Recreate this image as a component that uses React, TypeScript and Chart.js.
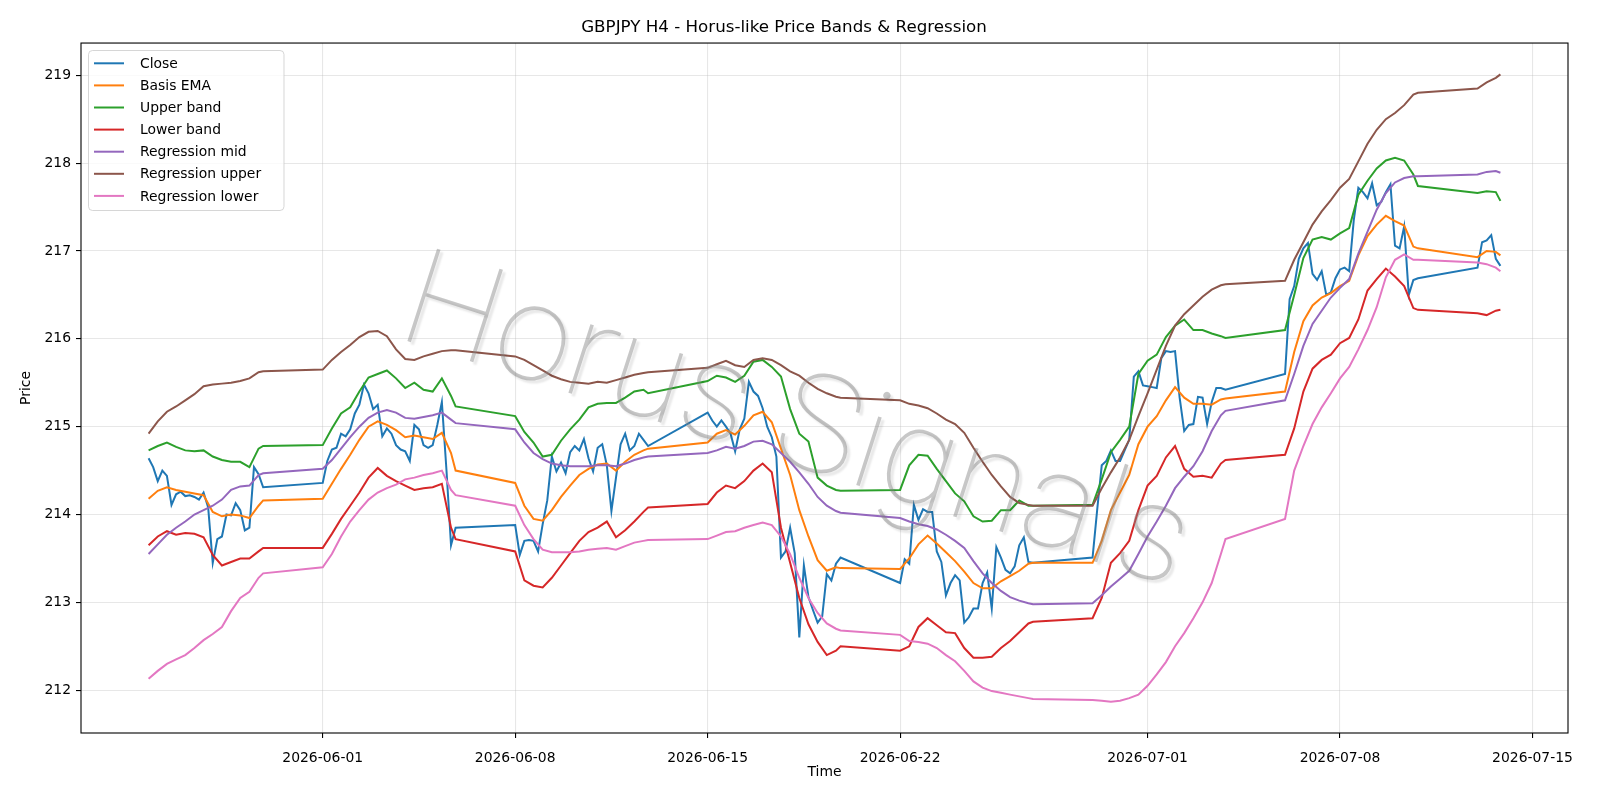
import { useEffect, useRef } from "react";
import { Chart, registerables } from "chart.js";

Chart.register(...registerables);

const TITLE = "GBPJPY H4 - Horus-like Price Bands & Regression";
const X_LABEL = "Time";
const Y_LABEL = "Price";
const WATERMARK = "Horus Signals";

// Trading sessions of H4 bars: [first day (UTC), first hour, bar count]
const SESSIONS: [string, number, number][] = [
  ["2026-05-25", 16, 26],
  ["2026-06-01", 0, 30],
  ["2026-06-08", 0, 30],
  ["2026-06-15", 0, 30],
  ["2026-06-22", 0, 30],
  ["2026-06-29", 0, 30],
  ["2026-07-06", 0, 30],
  ["2026-07-13", 0, 6],
];

const X_TICKS = ["2026-06-01", "2026-06-08", "2026-06-15", "2026-06-22", "2026-07-01", "2026-07-08", "2026-07-15"];
const Y_TICKS = [212, 213, 214, 215, 216, 217, 218, 219];

// Close, one value per H4 bar
const CLOSE = [
  214.64, 214.54, 214.38, 214.5, 214.44, 214.11, 214.23, 214.26, 214.21, 214.22, 214.2, 214.17, 214.25, 214.08, 213.45, 213.72, 213.75, 214.0, 213.99, 214.13, 214.05, 213.82, 213.85, 214.54, 214.46, 214.31,
  214.36, 214.61, 214.74, 214.76, 214.92, 214.89, 214.97, 215.15, 215.25, 215.48, 215.38, 215.2, 215.25, 214.89, 214.98, 214.92, 214.79, 214.74, 214.72, 214.61, 215.02, 214.97, 214.79, 214.76, 214.79, 215.02, 215.28, 214.51, 213.65, 213.85,
  213.88, 213.54, 213.7, 213.71, 213.7, 213.58, 213.89, 214.16, 214.66, 214.49, 214.59, 214.47, 214.71, 214.78, 214.73, 214.86, 214.64, 214.49, 214.76, 214.8, 214.56, 214.04, 214.42, 214.8, 214.92, 214.73, 214.78, 214.92, 214.85, 214.78,
  215.16, 215.07, 215.0, 215.07, 215.0, 214.92, 214.72, 214.97, 215.09, 215.51, 215.4, 215.35, 215.21, 215.0, 214.88, 214.66, 213.51, 213.58, 213.85, 213.56, 212.6, 213.42, 213.06, 212.91, 212.77, 212.84, 213.32, 213.25, 213.44, 213.51,
  213.22, 213.49, 213.44, 214.11, 213.94, 214.06, 214.03, 214.03, 213.58, 213.46, 213.08, 213.22, 213.31, 213.25, 212.77, 212.83, 212.93, 212.93, 213.22, 213.34, 212.93, 213.63, 213.51, 213.37, 213.33, 213.41, 213.65, 213.74, 213.46, 213.45,
  213.51, 214.05, 214.56, 214.61, 214.73, 214.61, 214.61, 214.73, 214.85, 215.57, 215.63, 215.47, 215.46, 215.45, 215.44, 215.78, 215.86, 215.85, 215.86, 215.33, 214.95, 215.02, 215.03, 215.34, 215.33, 215.03, 215.28, 215.44, 215.44, 215.42,
  215.6, 216.45, 216.6, 216.91, 217.03, 217.09, 216.74, 216.67, 216.77, 216.5, 216.53, 216.69, 216.79, 216.81, 216.77, 217.35, 217.72, 217.67, 217.6, 217.77, 217.52, 217.56, 217.67, 217.76, 217.06, 217.03, 217.28, 216.5, 216.67, 216.69,
  216.81, 217.1, 217.12, 217.18, 216.91, 216.83,
];

// Smoother series, one value per 8 hours (plus each session's last bar)
const BASIS_EMA = [
  214.18, 214.27, 214.31, 214.28, 214.26, 214.24, 214.22, 214.03, 213.98, 214.0, 213.99, 213.96, 214.1, 214.16,
  214.18, 214.35, 214.52, 214.68, 214.85, 215.0, 215.06, 215.02, 214.96, 214.88, 214.9, 214.88, 214.86, 214.93, 214.7, 214.5,
  214.36, 214.1, 213.95, 213.93, 214.05, 214.2, 214.33, 214.45, 214.52, 214.57, 214.58, 214.5, 214.6, 214.68, 214.73, 214.75,
  214.82, 214.92, 214.96, 214.91, 215.01, 215.13, 215.17, 215.05, 214.75, 214.45, 214.05, 213.75, 213.48, 213.36, 213.4, 213.39,
  213.38, 213.5, 213.66, 213.76, 213.67, 213.57, 213.47, 213.35, 213.22, 213.16, 213.16, 213.24, 213.3, 213.36, 213.44, 213.45,
  213.45, 213.7, 214.05, 214.25, 214.45, 214.8, 215.0, 215.12, 215.3, 215.45, 215.33, 215.26, 215.26, 215.25, 215.31, 215.32,
  215.4, 215.85, 216.2, 216.38, 216.47, 216.52, 216.6, 216.66, 216.95, 217.17, 217.3, 217.4, 217.34, 217.29, 217.05, 217.03,
  216.93, 217.0, 216.99, 216.95,
];

const UPPER_BAND = [
  214.73, 214.78, 214.82, 214.77, 214.73, 214.72, 214.73, 214.66, 214.62, 214.6, 214.6, 214.54, 214.75, 214.78,
  214.79, 214.98, 215.15, 215.22, 215.4, 215.56, 215.6, 215.64, 215.55, 215.44, 215.5, 215.42, 215.4, 215.55, 215.35, 215.23,
  215.12, 214.94, 214.82, 214.66, 214.68, 214.84, 214.97, 215.08, 215.22, 215.26, 215.27, 215.27, 215.33, 215.4, 215.42, 215.38,
  215.52, 215.58, 215.56, 215.51, 215.58, 215.74, 215.76, 215.68, 215.57, 215.2, 214.92, 214.83, 214.42, 214.33, 214.28, 214.27,
  214.28, 214.56, 214.68, 214.67, 214.52, 214.38, 214.24, 214.15, 213.98, 213.92, 213.93, 214.05, 214.05, 214.16, 214.1, 214.1,
  214.11, 214.4, 214.71, 214.85, 215.0, 215.6, 215.75, 215.82, 216.02, 216.15, 216.22, 216.1, 216.1, 216.06, 216.03, 216.01,
  216.1, 216.5, 216.92, 217.13, 217.16, 217.13, 217.2, 217.26, 217.64, 217.8, 217.94, 218.03, 218.06, 218.03, 217.87, 217.74,
  217.66, 217.68, 217.67, 217.57,
];

const LOWER_BAND = [
  213.65, 213.75, 213.81, 213.77, 213.79, 213.78, 213.74, 213.54, 213.42, 213.46, 213.5, 213.5, 213.58, 213.62,
  213.62, 213.78, 213.95, 214.1, 214.25, 214.42, 214.53, 214.44, 214.38, 214.33, 214.28, 214.3, 214.31, 214.35, 213.85, 213.72,
  213.58, 213.25, 213.19, 213.17, 213.28, 213.42, 213.56, 213.7, 213.8, 213.85, 213.92, 213.74, 213.82, 213.92, 214.03, 214.08,
  214.12, 214.25, 214.33, 214.3, 214.38, 214.5, 214.58, 214.48, 213.85, 213.45, 213.05, 212.75, 212.55, 212.4, 212.45, 212.5,
  212.45, 212.5, 212.72, 212.82, 212.74, 212.66, 212.65, 212.48, 212.37, 212.37, 212.38, 212.48, 212.56, 212.66, 212.76, 212.78,
  212.82, 213.05, 213.45, 213.56, 213.7, 214.05, 214.33, 214.44, 214.65, 214.78, 214.52, 214.43, 214.44, 214.42, 214.58, 214.62,
  214.68, 214.98, 215.4, 215.66, 215.76, 215.82, 215.95, 216.01, 216.22, 216.55, 216.68, 216.8, 216.71, 216.6, 216.35, 216.33,
  216.29, 216.27, 216.32, 216.33,
];

const REGRESSION_MID = [
  213.55, 213.66, 213.77, 213.85, 213.92, 214.0, 214.05, 214.1, 214.17, 214.28, 214.32, 214.33, 214.45, 214.47,
  214.52, 214.62, 214.75, 214.88, 215.0, 215.1, 215.16, 215.19, 215.16, 215.1, 215.09, 215.11, 215.13, 215.16, 215.08, 215.04,
  214.97, 214.82, 214.7, 214.63, 214.58, 214.56, 214.55, 214.55, 214.55, 214.56, 214.56, 214.55, 214.58, 214.62, 214.65, 214.66,
  214.7, 214.73, 214.77, 214.75, 214.78, 214.83, 214.84, 214.8, 214.7, 214.6, 214.48, 214.35, 214.2, 214.1, 214.04, 214.02,
  213.96, 213.92, 213.89, 213.87, 213.83, 213.77, 213.7, 213.62, 213.47, 213.33, 213.22, 213.13, 213.06, 213.02, 212.99, 212.98,
  212.99, 213.08, 213.18, 213.27, 213.36, 213.55, 213.75, 213.92, 214.1, 214.3, 214.43, 214.55, 214.72, 214.95, 215.13, 215.18,
  215.3, 215.6, 215.92, 216.17, 216.32, 216.47, 216.58, 216.68, 216.97, 217.22, 217.47, 217.66, 217.78, 217.83, 217.85, 217.85,
  217.87, 217.9, 217.91, 217.89,
];

const REGRESSION_UPPER = [
  214.92, 215.06, 215.17, 215.23, 215.3, 215.37, 215.46, 215.48, 215.49, 215.5, 215.52, 215.55, 215.62, 215.63,
  215.65, 215.76, 215.85, 215.93, 216.02, 216.08, 216.09, 216.03, 215.88, 215.77, 215.76, 215.8, 215.83, 215.86, 215.87, 215.87,
  215.8, 215.76, 215.7, 215.64, 215.58, 215.54, 215.51, 215.5, 215.49, 215.51, 215.5, 215.53, 215.56, 215.59, 215.61, 215.62,
  215.67, 215.71, 215.75, 215.7, 215.68, 215.76, 215.78, 215.76, 215.7, 215.63, 215.58, 215.5, 215.43, 215.38, 215.34, 215.33,
  215.3, 215.26, 215.24, 215.21, 215.15, 215.08, 215.03, 214.93, 214.76, 214.6, 214.45, 214.32, 214.2, 214.13, 214.11, 214.1,
  214.1, 214.3, 214.48, 214.65, 214.85, 215.12, 215.38, 215.65, 215.92, 216.15, 216.28, 216.38, 216.48, 216.56, 216.61, 216.62,
  216.66, 216.9, 217.1, 217.3, 217.45, 217.58, 217.72, 217.82, 218.02, 218.22, 218.38, 218.5, 218.57, 218.66, 218.78, 218.8,
  218.85, 218.92, 218.97, 219.01,
];

const REGRESSION_LOWER = [
  212.13, 212.22, 212.3, 212.35, 212.4, 212.48, 212.57, 212.64, 212.72, 212.9, 213.05, 213.12, 213.28, 213.33,
  213.4, 213.55, 213.75, 213.92, 214.05, 214.17, 214.25, 214.3, 214.34, 214.4, 214.42, 214.45, 214.47, 214.5, 214.28, 214.22,
  214.1, 213.88, 213.72, 213.6, 213.57, 213.57, 213.57, 213.58, 213.6, 213.61, 213.62, 213.6, 213.64, 213.68, 213.7, 213.71,
  213.72, 213.76, 213.8, 213.81, 213.85, 213.88, 213.91, 213.88, 213.75, 213.55, 213.28, 213.05, 212.88, 212.76, 212.7, 212.68,
  212.63, 212.56, 212.55, 212.53, 212.48, 212.4, 212.33, 212.22, 212.1, 212.03, 211.99, 211.97, 211.95, 211.93, 211.91, 211.9,
  211.89, 211.88, 211.87, 211.88, 211.91, 211.95, 212.05, 212.18, 212.32, 212.5, 212.65, 212.82, 213.0, 213.22, 213.55, 213.72,
  213.95, 214.5, 214.78, 215.03, 215.22, 215.38, 215.55, 215.68, 215.88, 216.1, 216.36, 216.7, 216.9, 216.96, 216.9, 216.9,
  216.87, 216.85, 216.81, 216.77,
];

const HOUR = 3600 * 1000;
const dayMs = (d: string) => Date.parse(d + "T00:00:00Z");

function buildTimes() {
  const bars: number[] = [];
  const smooth: number[] = [];
  for (const [day, h0, n] of SESSIONS) {
    const start = dayMs(day) + h0 * HOUR;
    for (let k = 0; k < n; k++) {
      const t = start + k * 4 * HOUR;
      bars.push(t);
      if (k % 2 === 0 || k === n - 1) smooth.push(t);
    }
  }
  return { bars, smooth };
}

const FONT = "'DejaVu Sans', 'Liberation Sans', sans-serif";
const MARK_FONT = "Roboto, Lato, 'DejaVu Sans', sans-serif";
const FS = 13.9;

const overlayPlugin = {
  id: "overlay",
  afterDraw(chart: any) {
    const { ctx, chartArea: a } = chart;
    const w = a.right - a.left;
    const h = a.bottom - a.top;

    // watermark: thin diagonal text with a soft shadow
    ctx.save();
    ctx.beginPath();
    ctx.rect(a.left, a.top, w, h);
    ctx.clip();
    ctx.font = `100 100px ${MARK_FONT}`;
    const size = (100 * 0.55 * w) / ctx.measureText(WATERMARK).width;
    ctx.font = `100 ${size}px ${MARK_FONT}`;
    ctx.translate(a.left + 0.211 * w, a.top + 0.426 * h);
    ctx.rotate((17.8 * Math.PI) / 180);
    ctx.textAlign = "left";
    ctx.textBaseline = "alphabetic";
    ctx.shadowColor = "rgba(0,0,0,0.2)";
    ctx.shadowOffsetX = 3;
    ctx.shadowOffsetY = 3;
    ctx.shadowBlur = 2;
    ctx.fillStyle = "rgba(130,130,130,0.45)";
    ctx.fillText(WATERMARK, 0, 0);
    ctx.restore();

    // axes frame
    ctx.save();
    ctx.strokeStyle = "#000";
    ctx.lineWidth = 1.1;
    ctx.strokeRect(a.left, a.top, w, h);
    ctx.restore();

    // legend
    const sets = chart.data.datasets;
    const bx = 88.5, by = 50.5, bw = 195.5, bh = 160;
    ctx.save();
    ctx.beginPath();
    ctx.roundRect(bx, by, bw, bh, 4);
    ctx.fillStyle = "rgba(255,255,255,0.8)";
    ctx.fill();
    ctx.strokeStyle = "rgba(204,204,204,0.8)";
    ctx.lineWidth = 1;
    ctx.stroke();
    ctx.font = `${FS}px ${FONT}`;
    ctx.textAlign = "left";
    ctx.textBaseline = "middle";
    sets.forEach((ds: any, i: number) => {
      const y = 63.3 + 22.1 * i;
      ctx.strokeStyle = ds.borderColor;
      ctx.lineWidth = 2;
      ctx.beginPath();
      ctx.moveTo(94, y);
      ctx.lineTo(124, y);
      ctx.stroke();
      ctx.fillStyle = "#000";
      ctx.fillText(ds.label, 140, y + 1);
    });
    ctx.restore();
  },
};

export default function App() {
  const ref = useRef<HTMLCanvasElement | null>(null);

  useEffect(() => {
    document.body.style.margin = "0";
    const canvas = ref.current;
    if (!canvas) return;
    const { bars, smooth } = buildTimes();
    const pts = (ts: number[], vs: number[]) => ts.map((t, i) => ({ x: t, y: vs[i] }));

    const series = [
      { label: "Close", color: "#1f77b4", times: bars, values: CLOSE },
      { label: "Basis EMA", color: "#ff7f0e", times: smooth, values: BASIS_EMA },
      { label: "Upper band", color: "#2ca02c", times: smooth, values: UPPER_BAND },
      { label: "Lower band", color: "#d62728", times: smooth, values: LOWER_BAND },
      { label: "Regression mid", color: "#9467bd", times: smooth, values: REGRESSION_MID },
      { label: "Regression upper", color: "#8c564b", times: smooth, values: REGRESSION_UPPER },
      { label: "Regression lower", color: "#e377c2", times: smooth, values: REGRESSION_LOWER },
    ];

    const allY = series.flatMap((s) => s.values);
    const yMin = Math.min(...allY);
    const yMax = Math.max(...allY);
    const yPad = (yMax - yMin) * 0.05;
    const xMin = bars[0];
    const xMax = bars[bars.length - 1];
    const xPad = (xMax - xMin) * 0.05;

    Chart.defaults.font.family = FONT;
    Chart.defaults.font.size = FS;
    Chart.defaults.color = "#000";

    const gridColor = "rgba(176,176,176,0.3)";

    const chart = new Chart(canvas, {
      type: "line",
      data: {
        datasets: series.map((s, i) => ({
          label: s.label,
          data: pts(s.times, s.values),
          borderColor: s.color,
          backgroundColor: s.color,
          borderWidth: 2,
          pointRadius: 0,
          tension: 0,
          fill: false,
          order: series.length - i,
        })),
      },
      options: {
        responsive: false,
        animation: false,
        devicePixelRatio: 1,
        layout: { padding: { top: 0, left: 0, right: 32, bottom: 0 } },
        plugins: {
          legend: { display: false },
          tooltip: { enabled: false },
          title: {
            display: true,
            text: TITLE,
            color: "#000",
            font: { family: FONT, size: 16.7, weight: "normal" },
            padding: { top: 18, bottom: 5 },
          },
        },
        scales: {
          x: {
            type: "linear",
            min: xMin - xPad,
            max: xMax + xPad,
            afterBuildTicks: (scale: any) => {
              scale.ticks = X_TICKS.map((d) => ({ value: dayMs(d) }));
            },
            afterFit: (scale: any) => {
              scale.height = 67;
            },
            ticks: {
              autoSkip: false,
              maxRotation: 0,
              padding: 12,
              color: "#000",
              callback: (v: any) => new Date(Number(v)).toISOString().slice(0, 10),
            },
            grid: { color: gridColor, lineWidth: 1.1, tickColor: "#000", tickLength: 5, tickWidth: 1.1 },
            border: { display: false },
            title: { display: true, text: X_LABEL, color: "#000", font: { size: FS }, padding: { top: 0, bottom: 19 } },
          },
          y: {
            type: "linear",
            min: yMin - yPad,
            max: yMax + yPad,
            afterBuildTicks: (scale: any) => {
              scale.ticks = Y_TICKS.map((v) => ({ value: v }));
            },
            afterFit: (scale: any) => {
              scale.width = 81;
            },
            ticks: { padding: 5, color: "#000", callback: (v: any) => String(v) },
            grid: { color: gridColor, lineWidth: 1.1, tickColor: "#000", tickLength: 5, tickWidth: 1.1 },
            border: { display: false },
            title: { display: true, text: Y_LABEL, color: "#000", font: { size: FS }, padding: { top: 18, bottom: 0 } },
          },
        },
      },
      plugins: [overlayPlugin],
    });

    return () => chart.destroy();
  }, []);

  return (
    <div style={{ width: 1600, height: 800, background: "#fff" }}>
      <canvas ref={ref} width={1600} height={800} style={{ display: "block" }} />
    </div>
  );
}
